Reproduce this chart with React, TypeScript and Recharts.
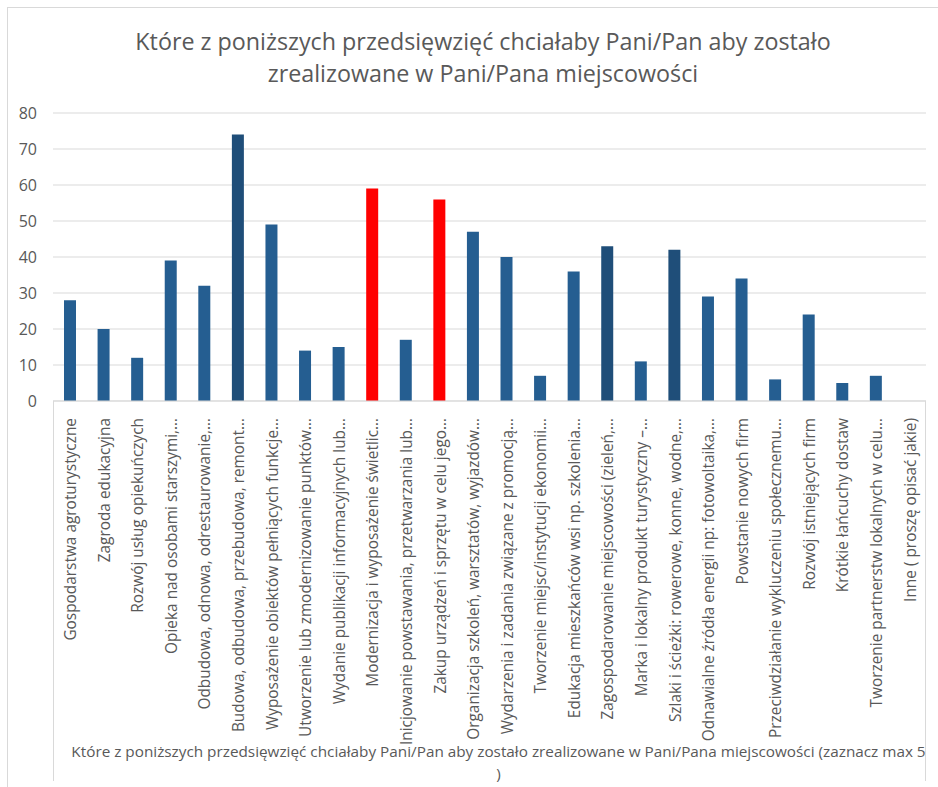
import { Bar, BarChart, CartesianGrid, Cell, XAxis, YAxis } from 'recharts';

const categories = [
  'Gospodarstwa agroturystyczne',
  'Zagroda edukacyjna',
  'Rozwój usług opiekuńczych',
  'Opieka nad osobami starszymi,…',
  'Odbudowa, odnowa, odrestaurowanie,…',
  'Budowa, odbudowa, przebudowa, remont…',
  'Wyposażenie obiektów pełniących funkcje…',
  'Utworzenie lub zmodernizowanie punktów…',
  'Wydanie publikacji informacyjnych lub…',
  'Modernizacja i wyposażenie świetlic…',
  'Inicjowanie powstawania, przetwarzania lub…',
  'Zakup urządzeń i sprzętu  w celu jego…',
  'Organizacja szkoleń, warsztatów, wyjazdów…',
  'Wydarzenia i zadania związane z promocją…',
  'Tworzenie miejsc/instytucji ekonomii…',
  'Edukacja mieszkańców wsi np. szkolenia…',
  'Zagospodarowanie miejscowości (zieleń,…',
  'Marka i lokalny produkt turystyczny  –…',
  'Szlaki i ścieżki: rowerowe, konne, wodne,…',
  'Odnawialne źródła energii np: fotowoltaika,…',
  'Powstanie nowych firm',
  'Przeciwdziałanie wykluczeniu społecznemu…',
  'Rozwój istniejących firm',
  'Krótkie łańcuchy dostaw',
  'Tworzenie partnerstw lokalnych w celu…',
  'Inne ( proszę opisać jakie)'
];

const values = [28, 20, 12, 39, 32, 74, 49, 14, 15, 59, 17, 56, 47, 40, 7, 36, 43, 11, 42, 29, 34, 6, 24, 5, 7, 0];

// which bars are drawn red / darker in the original
const redBars = [9, 11];
const darkBars = [5, 16, 18];

const yTicks = [0, 10, 20, 30, 40, 50, 60, 70, 80];

const title = ['Które z poniższych przedsięwzięć chciałaby Pani/Pan aby zostało', 'zrealizowane w Pani/Pana miejscowości'];
const axisTitle = ['Które z poniższych przedsięwzięć chciałaby Pani/Pan aby zostało zrealizowane w Pani/Pana miejscowości (zaznacz max 5', ')'];

const font = '"Open Sans", sans-serif';
const grey = '#595959';
const line = '#d9d9d9';

const data = categories.map((name, i) => ({ name, value: values[i] }));

function barColor(i: number) {
  if (redBars.includes(i)) return '#ff0000';
  if (darkBars.includes(i)) return '#1f4e79';
  return '#255e91';
}

function CategoryTick(props: any) {
  const { x, y, payload } = props;
  return (
    <g transform={`translate(${x + 1},${y + 9}) rotate(-90)`}>
      <text x={0} y={0} dy='0.35em' textAnchor='end' fill={grey} fontSize={15.4} fontFamily={font}>
        {payload.value}
      </text>
    </g>
  );
}

const footerLine = {
  position: 'absolute' as const,
  left: 54,
  width: 873,
  textAlign: 'center' as const,
  fontSize: 15.3,
  lineHeight: '22px',
  color: grey,
  whiteSpace: 'nowrap' as const
};

export default function App() {
  return (
    <>
      <style>{'body{margin:0}'}</style>
      <div
        style={{
          position: 'relative',
          width: 930,
          height: 779,
          marginLeft: 7,
          marginTop: 7,
          borderLeft: `1px solid ${line}`,
          borderTop: `1px solid ${line}`,
          overflow: 'hidden',
          background: '#fff',
          fontFamily: font
        }}
      >
        <div
          style={{
            position: 'absolute',
            top: 17,
            left: 0,
            width: 930,
            paddingLeft: 20,
            boxSizing: 'border-box',
            textAlign: 'center',
            fontSize: 23.3,
            lineHeight: '32px',
            color: grey,
            whiteSpace: 'nowrap'
          }}
        >
          {title[0]}
          <br />
          {title[1]}
        </div>
        <div style={{ position: 'absolute', left: 0, top: 0 }}>
          <BarChart width={930} height={779} data={data} margin={{ top: 105, right: 12, bottom: 66, left: 0 }}>
            <CartesianGrid vertical={false} stroke={line} />
            <XAxis
              dataKey='name'
              interval={0}
              height={320}
              tick={<CategoryTick />}
              tickLine={false}
              axisLine={{ stroke: line }}
            />
            <YAxis
              width={45}
              domain={[0, 80]}
              ticks={yTicks}
              axisLine={false}
              tickLine={false}
              tickSize={0}
              tickMargin={16}
              tick={{ fill: grey, fontSize: 16, fontFamily: font }}
            />
            <Bar dataKey='value' barSize={12} isAnimationActive={false}>
              {data.map((d, i) => (
                <Cell key={d.name} fill={barColor(i)} />
              ))}
            </Bar>
          </BarChart>
        </div>
        <div
          style={{
            position: 'absolute',
            left: 45,
            top: 393,
            width: 871,
            height: 380,
            borderLeft: `1px solid ${line}`,
            borderRight: `1px solid ${line}`,
            pointerEvents: 'none'
          }}
        />
        <div style={{ ...footerLine, top: 732 }}>{axisTitle[0]}</div>
        <div style={{ ...footerLine, top: 754 }}>{axisTitle[1]}</div>
      </div>
    </>
  );
}
